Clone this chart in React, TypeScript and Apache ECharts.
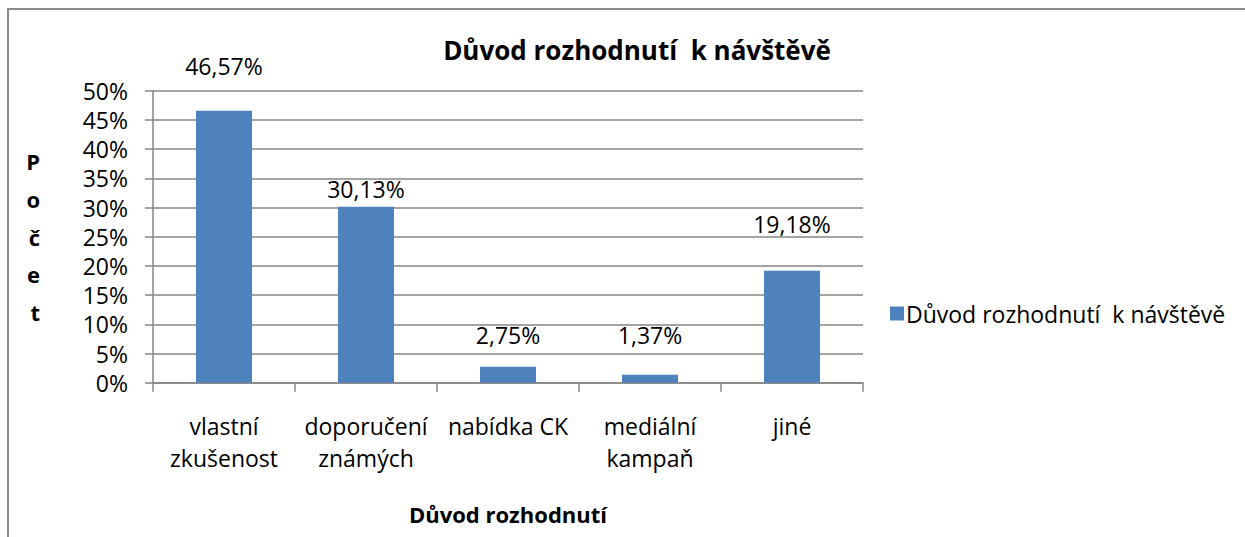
import React, { useEffect, useRef } from "react";
import * as echarts from "echarts";

const categories = ["vlastní\nzkušenost", "doporučení\nznámých", "nabídka CK", "mediální\nkampaň", "jiné"];
const values = [46.57, 30.13, 2.75, 1.37, 19.18];
const valueLabels = ["46,57%", "30,13%", "2,75%", "1,37%", "19,18%"];
const yTicks = { min: 0, max: 50, interval: 5 };
const seriesName = "Důvod rozhodnutí  k návštěvě";
const titleText = "Důvod rozhodnutí  k návštěvě";
const xAxisName = "Důvod rozhodnutí";
const yAxisName = "P\no\nč\ne\nt";

// label vertical nudges (style only)
const labelNudge = [-33, -6, -20, -28, -35];

const FONT = "'Open Sans', 'Noto Sans', sans-serif";
const GRAY = "#868686";
const FS = 23;

export default function App() {
  const ref = useRef<HTMLDivElement>(null);
  useEffect(() => {
    const chart = echarts.init(ref.current!, undefined, { renderer: "svg" });
    chart.setOption({
      animation: false,
      backgroundColor: "#ffffff",
      textStyle: { fontFamily: FONT },
      title: {
        text: titleText,
        left: 632,
        textAlign: "center",
        top: 32,
        textStyle: { fontFamily: FONT, fontSize: 26, fontWeight: "bold", color: "#000" },
      },
      legend: {
        left: 885,
        top: 297,
        orient: "vertical",
        icon: "rect",
        itemWidth: 14,
        itemHeight: 14,
        itemGap: 6,
        textStyle: { fontFamily: FONT, fontSize: FS, color: "#000", padding: [0, 0, 0, -3] },
        data: [seriesName],
      },
      grid: { left: 153, right: 382, top: 90.7, bottom: 154.3, containLabel: false },
      xAxis: {
        type: "category",
        data: categories,
        name: xAxisName,
        nameLocation: "middle",
        nameGap: 120,
        nameTextStyle: { fontFamily: FONT, fontSize: 22, fontWeight: "bold", color: "#000" },
        axisLine: { show: true, lineStyle: { color: GRAY, width: 1.5 } },
        axisTick: { show: true, length: 9, alignWithLabel: false, lineStyle: { color: GRAY, width: 1.5 } },
        axisLabel: { fontFamily: FONT, fontSize: FS, color: "#000", lineHeight: 31.5, margin: 28, interval: 0 },
        splitLine: { show: false },
      },
      yAxis: {
        type: "value",
        min: yTicks.min,
        max: yTicks.max,
        interval: yTicks.interval,
        name: yAxisName,
        nameLocation: "middle",
        nameRotate: 0,
        nameGap: 113,
        nameTextStyle: { fontFamily: FONT, fontSize: 22, fontWeight: "bold", color: "#000", lineHeight: 37.8, padding: [34, 0, 0, 0] },
        axisLine: { show: true, lineStyle: { color: GRAY, width: 1.5 } },
        axisTick: { show: true, length: 8, lineStyle: { color: GRAY, width: 1.5 } },
        axisLabel: { fontFamily: FONT, fontSize: FS, color: "#000", margin: 25, formatter: "{value}%" },
        splitLine: { show: true, lineStyle: { color: GRAY, width: 1.5 } },
      },
      series: [
        {
          name: seriesName,
          type: "bar",
          barWidth: 56,
          itemStyle: { color: "#4F81BD" },
          data: values.map((v, i) => ({
            value: v,
            label: {
              show: true,
              position: "top",
              distance: 0,
              offset: [0, labelNudge[i]],
              formatter: () => valueLabels[i],
              fontFamily: FONT,
              fontSize: FS,
              color: "#000",
            },
          })),
        },
      ],
      graphic: [
        {
          type: "rect",
          shape: { x: 8, y: 9, width: 1400, height: 700 },
          style: { fill: "none", stroke: "#8c8c8c", lineWidth: 2 },
          silent: true,
        },
      ],
    });
    return () => chart.dispose();
  }, []);
  return (
    <div
      ref={ref}
      style={{ position: "fixed", left: 0, top: 0, width: 1245, height: 537 }}
    />
  );
}
